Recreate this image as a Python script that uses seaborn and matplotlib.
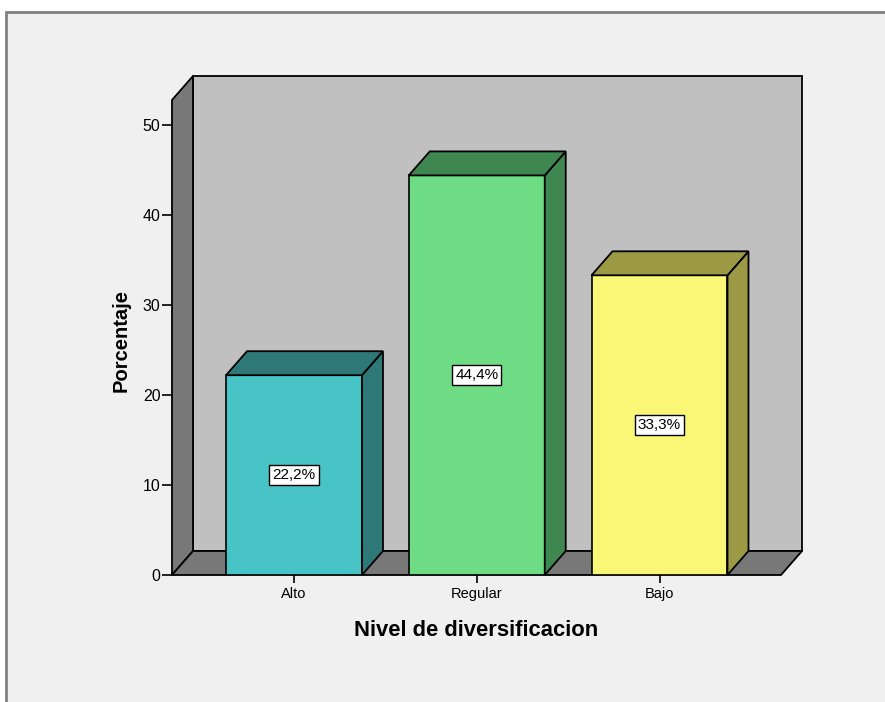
import matplotlib
matplotlib.use("Agg")
import matplotlib.pyplot as plt
from matplotlib.patches import Polygon, Rectangle
import seaborn as sns
import pandas as pd

# Data
categories = ["Alto", "Regular", "Bajo"]
percentages = [22.2, 44.4, 33.3]
value_labels = ["22,2%", "44,4%", "33,3%"]
y_ticks = [0, 10, 20, 30, 40, 50]

front_colors = ["#48C3C6", "#6EDC84", "#F9F775"]
shade_colors = ["#2E7978", "#3F8750", "#9D9A45"]

sns.set_style("white")
plt.rcParams["font.family"] = ["Liberation Sans", "DejaVu Sans"]
plt.rcParams["text.color"] = "black"
plt.rcParams["xtick.color"] = "black"
plt.rcParams["ytick.color"] = "black"

W, H = 885, 702
fig = plt.figure(figsize=(W / 100, H / 100), dpi=100, facecolor="white")

# Outer chart frame
fig.patches.append(Rectangle((6 / W, -0.05), 1.0, (H - 12) / H + 0.05,
                             transform=fig.transFigure, facecolor="#F0F0F0",
                             edgecolor="#808080", linewidth=2, zorder=-5))

# Front plane of the plot area
x0_px, x1_px, y0_px, y1_px = 172, 781, 575, 100
ax = fig.add_axes([x0_px / W, (H - y0_px) / H, (x1_px - x0_px) / W, (y0_px - y1_px) / H])
ax.set_facecolor("none")

df = pd.DataFrame({"nivel": categories, "pct": percentages})
sns.barplot(data=df, x="nivel", y="pct", hue="nivel", palette=front_colors,
            saturation=1, width=0.744, edgecolor="black", linewidth=1.2,
            errorbar=None, legend=False, ax=ax, zorder=3)

px_per_unit = 182.75
xl = -(294 - x0_px) / px_per_unit
xr = 2 + (x1_px - 659.5) / px_per_unit
ytop = (y0_px - y1_px) / 9.0
ax.set_xlim(xl, xr)
ax.set_ylim(0, ytop)

# Depth offset of the 3D effect in data units
dx = 21 / px_per_unit
dy = 24 / 9.0

edge = dict(edgecolor="black", linewidth=1.3, clip_on=False)

# Back wall, left wall and floor
ax.add_patch(Rectangle((xl + dx, dy), xr - xl, ytop, facecolor="#C0C0C0", zorder=0.5, **edge))
ax.add_patch(Polygon([(xl, 0), (xl, ytop), (xl + dx, ytop + dy), (xl + dx, dy)],
                     closed=True, facecolor="#787878", zorder=1, **edge))
ax.add_patch(Polygon([(xl, 0), (xr, 0), (xr + dx, dy), (xl + dx, dy)],
                     closed=True, facecolor="#787878", zorder=1, **edge))

# Side and top faces of each bar
bars = [p for p in ax.patches if isinstance(p, Rectangle) and p.get_width() < 1][:3]
bars = sorted(bars, key=lambda p: p.get_x())
for bar, shade, lab in zip(bars, shade_colors, value_labels):
    bx0 = bar.get_x()
    bx1 = bx0 + bar.get_width()
    h = bar.get_height()
    ax.add_patch(Polygon([(bx1, 0), (bx1 + dx, dy), (bx1 + dx, h + dy), (bx1, h)],
                         closed=True, facecolor=shade, zorder=3, **edge))
    ax.add_patch(Polygon([(bx0, h), (bx1, h), (bx1 + dx, h + dy), (bx0 + dx, h + dy)],
                         closed=True, facecolor=shade, zorder=3, **edge))
    ax.text((bx0 + bx1) / 2, h / 2, lab, ha="center", va="center", fontsize=11,
            zorder=6, bbox=dict(boxstyle="square,pad=0.2", facecolor="white",
                                edgecolor="black", linewidth=1))

for s in ax.spines.values():
    s.set_visible(False)

ax.set_yticks(y_ticks)
ax.set_yticklabels([str(t) for t in y_ticks])
ax.tick_params(axis="y", which="both", direction="out", length=7.2, width=1.2,
               pad=1, labelsize=11.5, color="black", labelcolor="black", left=True)
ax.tick_params(axis="x", which="both", direction="out", length=5.5, width=1.2,
               pad=3, labelsize=10.5, color="black", labelcolor="black", bottom=True)
ax.set_xlabel("")
ax.set_ylabel("")

fig.text(476 / W, 1 - 636 / H, "Nivel de diversificacion", ha="center", va="baseline",
         fontsize=15.8, fontweight="bold", color="black")
fig.text(121 / W, 1 - 340 / H, "Porcentaje", ha="center", va="center", rotation=90,
         fontsize=14.5, fontweight="bold", color="black")

fig.savefig("out.png", dpi=100, facecolor="white")
